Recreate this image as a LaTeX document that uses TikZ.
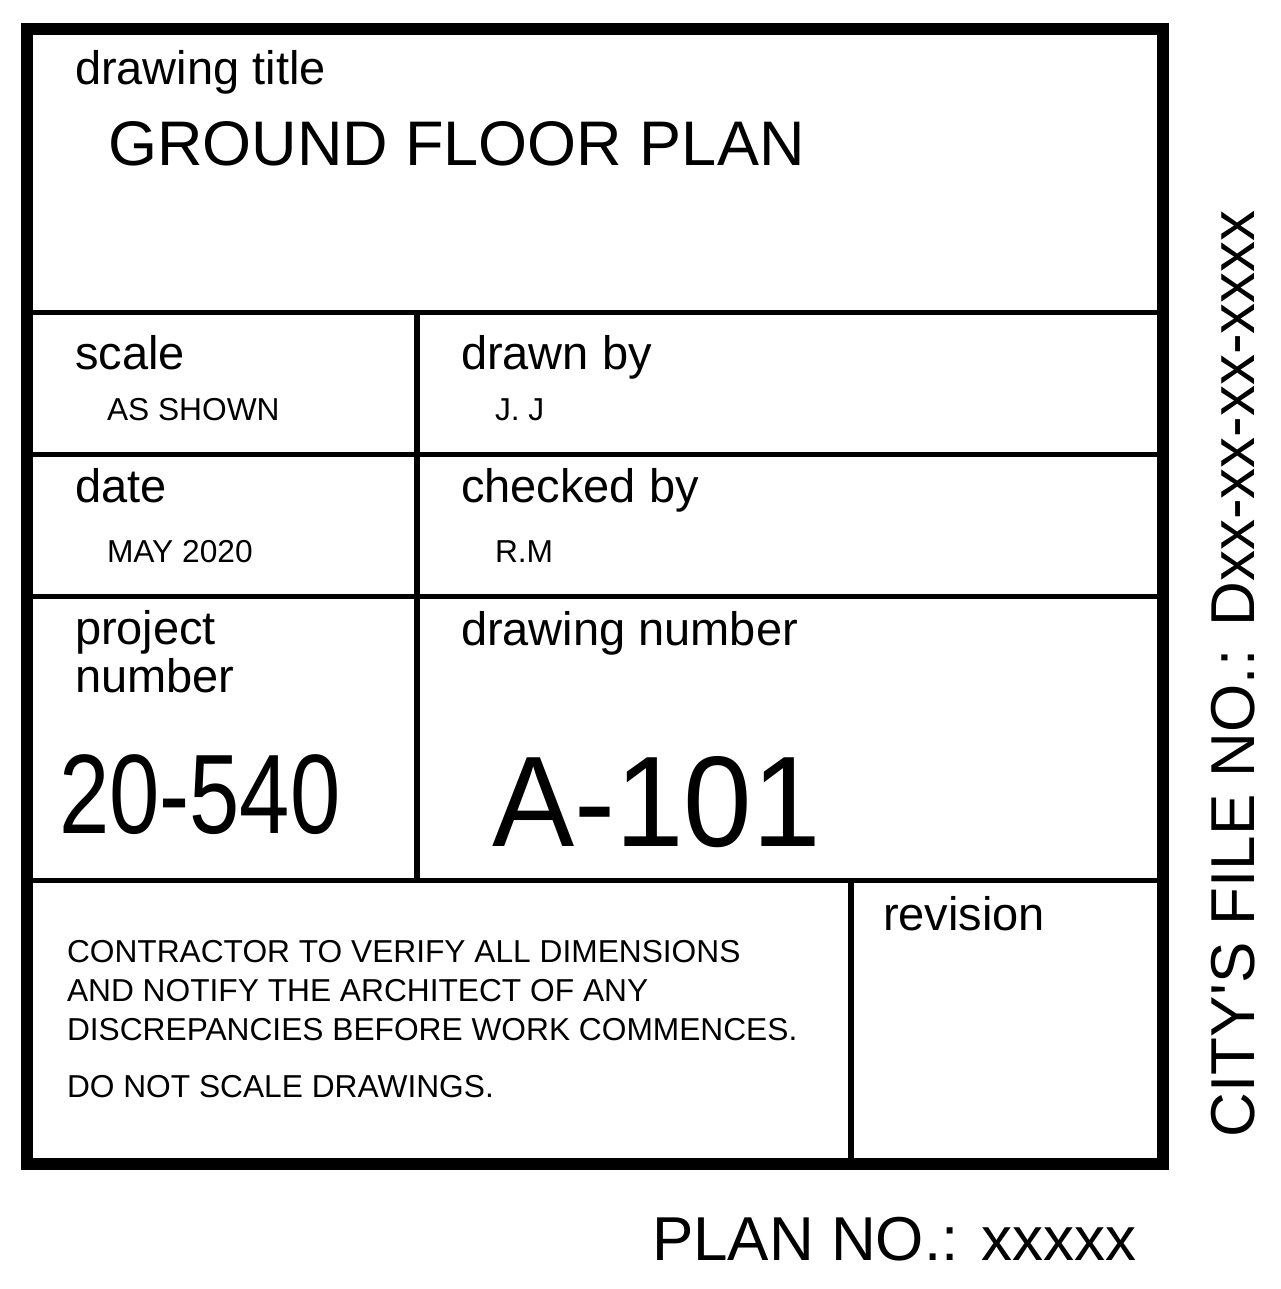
\documentclass[tikz,border=0pt]{standalone}
\usepackage{fontspec}
\setmainfont{Liberation Sans}
\usepackage{graphicx}
\tikzset{
  lbl/.style={anchor=base west, inner sep=0pt, outer sep=0pt, font=\fontsize{47}{50}\selectfont},
  val/.style={anchor=base west, inner sep=0pt, outer sep=0pt, font=\fontsize{31.7}{36}\selectfont},
  big/.style={anchor=base west, inner sep=0pt, outer sep=0pt},
  frame/.style={line width=12pt, line join=miter},
  rulethin/.style={line width=5pt},
  rulevert/.style={line width=6pt},
}
\begin{document}
\begin{tikzpicture}[x=1pt,y=-1pt]
\useasboundingbox[fill=white] (0,0) rectangle (1280,1289);
% frame and grid
\draw[frame] (27,29) rectangle (1163,1164);
\draw[rulethin] (27,312) -- (1163,312);
\draw[rulethin] (417,454) -- (1163,454);
\draw[rulethin] (27,454) -- (417,454);
\draw[rulethin] (27,596) -- (1163,596);
\draw[rulethin] (27,880) -- (1163,880);
\draw[rulevert] (417,312) -- (417,880);
\draw[rulevert] (851,880) -- (851,1164);
% title block
\node[lbl] (tlab) at (75,85) {drawing title};
\node[big, font=\fontsize{63}{70}\selectfont] (title) at (108,166) {GROUND FLOOR PLAN};
\node[lbl] (slab) at (75,369) {scale};
\node[val] (sval) at (107,420) {AS SHOWN};
\node[lbl] (dblab) at (461,369) {drawn by};
\node[val] (dbval) at (495,420) {J. J};
\node[lbl] (dlab) at (75,502) {date};
\node[val] (dval) at (107,562) {MAY 2020};
\node[lbl] (cblab) at (461,502) {checked by};
\node[val] (cbval) at (495,562) {R.M};
\node[lbl] (plab1) at (75,644) {project};
\node[lbl] (plab2) at (75,692) {number};
\node[big, font=\fontsize{113}{120}\selectfont] (pval) at (59,833) {\scalebox{0.80}[1]{20-540}};
\node[lbl] (dnlab) at (461,645) {drawing number};
\node[big, font=\fontsize{129}{135}\selectfont] (dnval) at (492,846) {\scalebox{0.955}[1]{A-101}};
\node[lbl] (rlab) at (883,930) {revision};
\node[val] (note1) at (67,962) {CONTRACTOR TO VERIFY ALL DIMENSIONS};
\node[val] (note2) at (67,1001) {AND NOTIFY THE ARCHITECT OF ANY};
\node[val] (note3) at (67,1040) {DISCREPANCIES BEFORE WORK COMMENCES.};
\node[val] (note4) at (67,1097) {DO NOT SCALE DRAWINGS.};
% outside texts
\node[big, font=\fontsize{62}{68}\selectfont] (planno) at (652,1260) {PLAN NO.: xxxxx};
\node[big, rotate=90, font=\fontsize{62}{68}\selectfont] (fileno) at (1254,1137) {CITY\textquotesingle S FILE NO.: Dxx-xx-xx-xxxx};
\end{tikzpicture}
\end{document}
